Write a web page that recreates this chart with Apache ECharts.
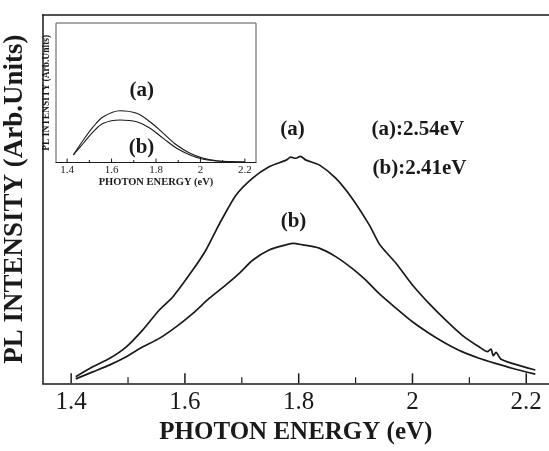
<!DOCTYPE html>
<html><head><meta charset="utf-8">
<script src="https://cdn.jsdelivr.net/npm/echarts@6/dist/echarts.min.js"></script>
<style>html,body{margin:0;padding:0;background:#fff}#c{width:549px;height:451px}</style>
</head><body><div id="c"></div>
<script>
// ---- tick labels ----
const mainMajorTicks = [1.4, 1.6, 1.8, 2, 2.2];
const mainMinorTicks = [1.5, 1.7, 1.9, 2.1];
const insetMajorTicks = [1.4, 1.6, 1.8, 2, 2.2];
const insetMinorTicks = [1.5, 1.7, 1.9, 2.1];

// ---- main panel, curve (a) ----
const aEnergy = [1.408,1.438,1.468,1.497,1.526,1.555,1.579,1.614,1.637,1.655,1.661,1.690,1.719,1.748,1.778,1.786,1.795,1.803,1.813,1.836,1.865,1.894,1.924,1.941,1.953,1.971,2.000,2.029,2.058,2.087,2.117,2.132,2.138,2.142,2.147,2.155,2.175,2.216];
const aIntensity = [1.8,4.5,6.8,9.9,14.5,19.9,23.5,30.8,36.2,41.6,43.4,51.1,55.7,58.8,60.6,61.4,61.1,61.6,60.6,59.3,55.7,50.2,43.0,38.0,35.7,32.6,26.7,21.7,17.2,13.1,9.9,8.6,9.3,7.5,8.4,6.6,5.4,3.6];

// ---- main panel, curve (b) ----
const bEnergy = [1.408,1.438,1.468,1.497,1.526,1.555,1.585,1.614,1.643,1.672,1.696,1.719,1.748,1.778,1.790,1.807,1.836,1.865,1.894,1.918,1.941,1.971,2.000,2.029,2.058,2.087,2.117,2.146,2.175,2.216];
const bIntensity = [1.2,3.1,5.0,7.2,9.9,12.2,15.4,19.0,23.1,26.7,29.9,33.4,36.2,37.6,38.0,37.6,36.7,34.4,31.2,28.0,24.4,20.4,16.7,13.6,10.9,8.6,6.8,5.4,4.1,2.5];

// ---- inset curves ----
const insetEnergy = [1.428,1.473,1.518,1.563,1.638,1.713,1.773,1.833,1.893,1.953,2.013,2.073,2.133,2.200];
const insetA = [5.4,16.1,25.7,32.8,37.1,35.3,29.2,20.9,12.5,6.6,3.0,1.3,0.6,0.3];
const insetB = [5.4,13.8,22.1,28.1,30.5,29.2,24.5,17.3,10.2,5.4,2.3,1.1,0.5,0.3];

const pairs = (xs, ys) => xs.map((x, i) => [x, ys[i]]);
const SERIF = '"Liberation Serif","Times New Roman",serif';
const INK = '#1a1a1a';

// ticks drawn through the axis scale (custom series, one tick per value)
function tickSeries(values, xIdx, yIdx, len, width) {
  return {
    type: 'custom', xAxisIndex: xIdx, yAxisIndex: yIdx, z: 8, silent: true, clip: false,
    data: values.map(v => [v]),
    renderItem: (params, api) => {
      const p = api.coord([api.value(0), 0]);
      return {type: 'line', shape: {x1: p[0], y1: p[1], x2: p[0], y2: p[1] - len},
              style: {stroke: INK, lineWidth: width}};
    }
  };
}

const chart = echarts.init(document.getElementById('c'), null, {renderer: 'canvas'});
chart.setOption({
  animation: false,
  backgroundColor: '#fff',
  grid: [
    {left: 42.7, top: 15, right: 0, bottom: 67.7, outerBoundsMode: 'none', containLabel: false},
    {left: 56, top: 23, width: 200, height: 139.5, outerBoundsMode: 'none', containLabel: false,
     show: true, borderColor: '#555', borderWidth: 1, backgroundColor: '#fff', z: 5}
  ],
  xAxis: [
    {gridIndex: 0, type: 'value', min: 1.35, max: 2.24, position: 'bottom',
     axisLine: {show: true, lineStyle: {color: INK, width: 1.5}},
     axisTick: {show: false},
     axisLabel: {show: true, customValues: mainMajorTicks, fontFamily: SERIF, fontSize: 25, color: INK, margin: 7},
     splitLine: {show: false},
     name: 'PHOTON ENERGY (eV)', nameLocation: 'middle', nameGap: 32,
     nameTextStyle: {fontFamily: SERIF, fontSize: 25, fontWeight: 'bold', color: INK}},
    {gridIndex: 0, type: 'value', min: 1.35, max: 2.24, position: 'top',
     axisLine: {show: true, lineStyle: {color: INK, width: 1.5}},
     axisTick: {show: false}, axisLabel: {show: false}, splitLine: {show: false}},
    {gridIndex: 1, type: 'value', min: 1.35, max: 2.25, position: 'bottom', z: 6,
     axisLine: {show: true, lineStyle: {color: INK, width: 1.2}},
     axisTick: {show: false},
     axisLabel: {show: true, customValues: insetMajorTicks, fontFamily: SERIF, fontSize: 11, color: INK, margin: 2},
     splitLine: {show: false},
     name: 'PHOTON ENERGY (eV)', nameLocation: 'middle', nameGap: 12,
     nameTextStyle: {fontFamily: SERIF, fontSize: 10.5, fontWeight: 'bold', color: INK}}
  ],
  yAxis: [
    {gridIndex: 0, type: 'value', min: 0, max: 100, position: 'left',
     axisLine: {show: true, lineStyle: {color: INK, width: 1.5}},
     axisTick: {show: false}, axisLabel: {show: false}, splitLine: {show: false},
     name: 'PL INTENSITY (Arb.Units)', nameLocation: 'middle', nameGap: 14,
     nameTextStyle: {fontFamily: SERIF, fontSize: 27, fontWeight: 'bold', color: INK}},
    {gridIndex: 1, type: 'value', min: 0, max: 100, position: 'left', z: 6,
     axisLine: {show: false}, axisTick: {show: false}, axisLabel: {show: false}, splitLine: {show: false},
     name: 'PL INTENSITY (Arb.Units)', nameLocation: 'middle', nameGap: 4,
     nameTextStyle: {fontFamily: SERIF, fontSize: 9.5, fontWeight: 'bold', color: INK}}
  ],
  series: [
    {type: 'line', xAxisIndex: 0, yAxisIndex: 0, data: pairs(aEnergy, aIntensity), showSymbol: false, smooth: 0.25,
     lineStyle: {color: INK, width: 1.7}},
    {type: 'line', xAxisIndex: 0, yAxisIndex: 0, data: pairs(bEnergy, bIntensity), showSymbol: false, smooth: 0.25,
     lineStyle: {color: INK, width: 1.7}},
    {type: 'line', xAxisIndex: 2, yAxisIndex: 1, data: pairs(insetEnergy, insetA), showSymbol: false, smooth: 0.35, z: 7,
     lineStyle: {color: INK, width: 1.1}},
    {type: 'line', xAxisIndex: 2, yAxisIndex: 1, data: pairs(insetEnergy, insetB), showSymbol: false, smooth: 0.35, z: 7,
     lineStyle: {color: INK, width: 1.1}},
    tickSeries(mainMajorTicks, 0, 0, 10, 1.5),
    tickSeries(mainMinorTicks, 0, 0, 6, 1.2),
    tickSeries(insetMajorTicks, 2, 1, 4, 1),
    tickSeries(insetMinorTicks, 2, 1, 2.5, 1)
  ],
  graphic: [
    {type: 'text', x: 292.5, y: 129.5, z: 10, style: {text: '(a)', font: 'bold 21px ' + SERIF, fill: INK, align: 'center', verticalAlign: 'middle'}},
    {type: 'text', x: 293.5, y: 222, z: 10, style: {text: '(b)', font: 'bold 21px ' + SERIF, fill: INK, align: 'center', verticalAlign: 'middle'}},
    {type: 'text', x: 371.5, y: 129.5, z: 10, style: {text: '(a):2.54eV', font: 'bold 21px ' + SERIF, fill: INK, align: 'left', verticalAlign: 'middle'}},
    {type: 'text', x: 372.5, y: 168.5, z: 10, style: {text: '(b):2.41eV', font: 'bold 21px ' + SERIF, fill: INK, align: 'left', verticalAlign: 'middle'}},
    {type: 'text', x: 141.7, y: 91, z: 10, style: {text: '(a)', font: 'bold 21px ' + SERIF, fill: INK, align: 'center', verticalAlign: 'middle'}},
    {type: 'text', x: 141.5, y: 148, z: 10, style: {text: '(b)', font: 'bold 21px ' + SERIF, fill: INK, align: 'center', verticalAlign: 'middle'}}
  ]
});
</script>
</body></html>
